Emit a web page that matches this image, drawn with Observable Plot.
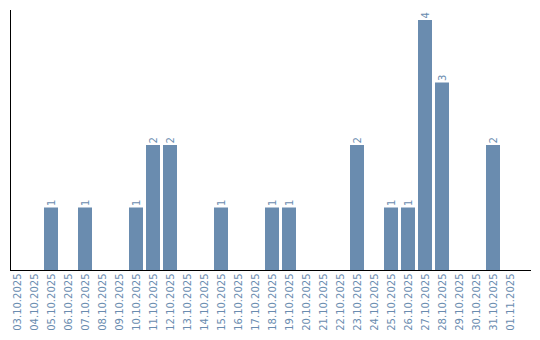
<!DOCTYPE html>
<html>
<head>
<meta charset="utf-8">
<script src="https://cdn.jsdelivr.net/npm/d3@7"></script>
<script src="https://cdn.jsdelivr.net/npm/@observablehq/plot@0.6"></script>
<style>
  html, body { margin: 0; padding: 0; background: #fff; }
  svg { display: block; }
</style>
</head>
<body>
<div id="chart"></div>
<script>
const dates = ["03.10.2025","04.10.2025","05.10.2025","06.10.2025","07.10.2025","08.10.2025","09.10.2025","10.10.2025","11.10.2025","12.10.2025","13.10.2025","14.10.2025","15.10.2025","16.10.2025","17.10.2025","18.10.2025","19.10.2025","20.10.2025","21.10.2025","22.10.2025","23.10.2025","24.10.2025","25.10.2025","26.10.2025","27.10.2025","28.10.2025","29.10.2025","30.10.2025","31.10.2025","01.11.2025"];
const counts = [0,0,1,0,1,0,0,1,2,2,0,0,1,0,0,1,1,0,0,0,2,0,1,1,4,3,0,0,2,0];

const data = dates.map((d, i) => ({date: d, count: counts[i]}));
const labeled = data.filter(d => d.count > 0);
const color = "#6a8caf";

const chart = Plot.plot({
  width: 540,
  height: 340,
  marginTop: 10,
  marginLeft: 10,
  marginRight: 10,
  marginBottom: 70,
  style: {fontFamily: "DejaVu Sans", fontSize: "10px", background: "#fff"},
  x: {domain: dates, paddingInner: 3/17, paddingOuter: 0.382, align: 0, round: true, label: null},
  y: {domain: [0, 4], insetTop: 10, axis: null},
  marks: [
    Plot.barY(data, {x: "date", y: "count", fill: color}),
    Plot.text(labeled, {x: "date", y: "count", text: d => String(d.count), rotate: -90, textAnchor: "start", dy: -2, fill: color, fontSize: 10}),
    Plot.axisX({tickSize: 0, tickPadding: 3, tickRotate: -90, fill: color, fontSize: 10, label: null}),
    Plot.frame({anchor: "left", stroke: "#000"}),
    Plot.frame({anchor: "bottom", stroke: "#000"})
  ]
});
document.getElementById("chart").appendChild(chart);
</script>
</body>
</html>
